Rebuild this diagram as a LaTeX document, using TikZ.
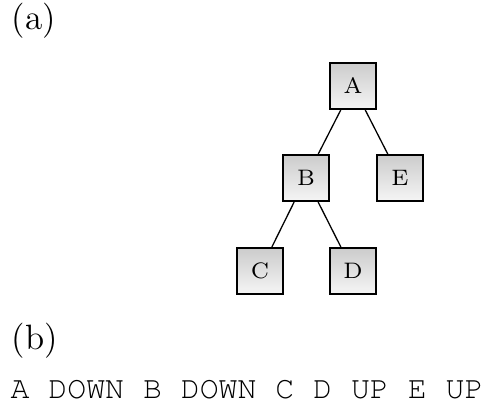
\documentclass[tikz,border=0pt]{standalone}
\usepackage[T1,TU]{fontenc}
\newcommand{\courierfont}{\usefont{T1}{pcr}{m}{n}\fontsize{9.85}{12}\selectfont}
\begin{document}
\begin{tikzpicture}[x=0.3125pt,y=-0.3125pt,
  treebox/.style={draw=black, line width=0.7pt, rectangle, minimum size=14.3pt, inner sep=0pt,
    top color=black!20, bottom color=black!4, font=\scriptsize},
  edge/.style={draw=black, line width=0.4pt},
  label/.style={inner sep=0pt, anchor=base west, font=\fontsize{11}{13}\selectfont}]
\useasboundingbox (0,0) rectangle (489,412);
\node[label] (la) at (11,29) {(a)};
\node[label] (lb) at (11,349) {(b)};
\node[label, font=\courierfont] (seq) at (10,398) {A DOWN B DOWN C D UP E UP};
\node[treebox] (A) at (353,86) {A};
\node[treebox] (B) at (306,178) {B};
\node[treebox] (E) at (400,178) {E};
\node[treebox] (C) at (260,271) {C};
\node[treebox] (D) at (353,271) {D};
\draw[edge] (A) -- (B);
\draw[edge] (A) -- (E);
\draw[edge] (B) -- (C);
\draw[edge] (B) -- (D);
\end{tikzpicture}
\end{document}
